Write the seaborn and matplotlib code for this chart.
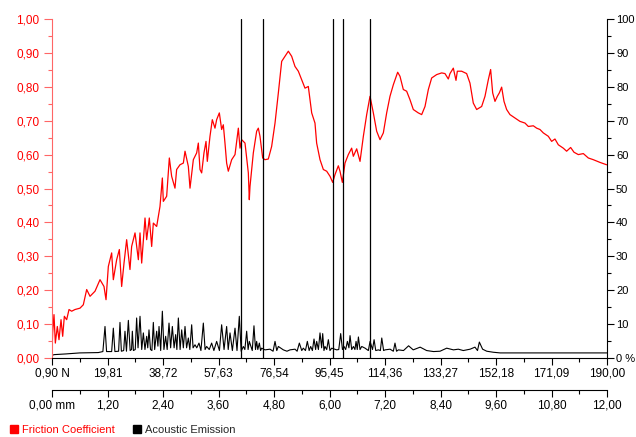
import matplotlib
matplotlib.use("Agg")
import matplotlib.pyplot as plt
from matplotlib.lines import Line2D
from matplotlib.ticker import MultipleLocator, FixedLocator
import seaborn as sns
import pandas as pd

# friction coefficient, x in mm of track
friction_mm = [0.000, 0.014, 0.043, 0.072, 0.115, 0.151, 0.195, 0.231, 0.267, 0.317, 0.368, 0.425,
               0.497, 0.605, 0.677, 0.750, 0.822, 0.930, 1.038, 1.124, 1.168, 1.218, 1.290, 1.326,
               1.398, 1.456, 1.506, 1.557, 1.614, 1.686, 1.722, 1.795, 1.867, 1.903, 1.939, 2.011,
               2.047, 2.104, 2.155, 2.191, 2.263, 2.335, 2.386, 2.407, 2.479, 2.537, 2.587, 2.659,
               2.695, 2.767, 2.840, 2.876, 2.948, 2.984, 3.056, 3.128, 3.164, 3.200, 3.236, 3.286,
               3.330, 3.358, 3.416, 3.466, 3.524, 3.560, 3.618, 3.668, 3.704, 3.740, 3.776, 3.812,
               3.885, 3.957, 4.029, 4.065, 4.101, 4.173, 4.245, 4.266, 4.281, 4.353, 4.425, 4.461,
               4.497, 4.555, 4.605, 4.677, 4.749, 4.822, 4.894, 4.966, 5.038, 5.110, 5.182, 5.254,
               5.326, 5.398, 5.470, 5.542, 5.615, 5.686, 5.722, 5.795, 5.867, 5.939, 6.011, 6.069,
               6.119, 6.191, 6.227, 6.278, 6.335, 6.407, 6.479, 6.515, 6.588, 6.660, 6.732, 6.804,
               6.876, 6.948, 7.020, 7.092, 7.164, 7.236, 7.308, 7.380, 7.474, 7.524, 7.596, 7.668,
               7.740, 7.812, 7.920, 7.993, 8.065, 8.137, 8.209, 8.317, 8.425, 8.497, 8.569, 8.605,
               8.677, 8.735, 8.764, 8.857, 8.965, 9.037, 9.109, 9.182, 9.290, 9.362, 9.434, 9.484,
               9.528, 9.578, 9.629, 9.672, 9.722, 9.773, 9.830, 9.902, 10.010, 10.118, 10.227,
               10.299, 10.407, 10.479, 10.551, 10.623, 10.731, 10.803, 10.875, 10.947, 11.055,
               11.127, 11.214, 11.286, 11.380, 11.488, 11.596, 11.704, 11.848, 11.992]
friction = [0.020, 0.074, 0.128, 0.044, 0.093, 0.054, 0.113, 0.064, 0.123, 0.113, 0.143, 0.138,
            0.143, 0.147, 0.157, 0.202, 0.182, 0.197, 0.231, 0.211, 0.172, 0.270, 0.310, 0.231,
            0.290, 0.320, 0.211, 0.280, 0.349, 0.261, 0.329, 0.369, 0.290, 0.369, 0.280, 0.413,
            0.349, 0.413, 0.329, 0.398, 0.388, 0.447, 0.531, 0.462, 0.477, 0.590, 0.536, 0.501,
            0.556, 0.570, 0.575, 0.610, 0.565, 0.501, 0.585, 0.605, 0.634, 0.556, 0.546, 0.605,
            0.639, 0.580, 0.654, 0.703, 0.678, 0.703, 0.723, 0.674, 0.688, 0.634, 0.575, 0.551,
            0.585, 0.600, 0.678, 0.619, 0.644, 0.634, 0.546, 0.467, 0.506, 0.605, 0.669, 0.678,
            0.654, 0.590, 0.585, 0.587, 0.624, 0.693, 0.782, 0.875, 0.890, 0.905, 0.890, 0.860,
            0.846, 0.821, 0.796, 0.801, 0.723, 0.693, 0.634, 0.585, 0.556, 0.551, 0.536, 0.518,
            0.541, 0.567, 0.551, 0.518, 0.575, 0.600, 0.619, 0.595, 0.617, 0.580, 0.654, 0.718,
            0.772, 0.723, 0.669, 0.644, 0.664, 0.723, 0.772, 0.806, 0.843, 0.831, 0.792, 0.787,
            0.762, 0.733, 0.723, 0.718, 0.742, 0.792, 0.826, 0.836, 0.841, 0.839, 0.823, 0.839,
            0.855, 0.819, 0.846, 0.846, 0.839, 0.811, 0.752, 0.733, 0.742, 0.772, 0.821, 0.851,
            0.782, 0.757, 0.772, 0.782, 0.799, 0.757, 0.733, 0.718, 0.708, 0.698, 0.693,
            0.683, 0.685, 0.678, 0.674, 0.664, 0.654, 0.639, 0.646, 0.629, 0.619,
            0.610, 0.621, 0.607, 0.600, 0.603, 0.590, 0.585, 0.577, 0.570]

# acoustic emission in %
ae_mm = [0.00, 0.05, 0.30, 0.60, 1.00, 1.10, 1.146, 1.18, 1.29, 1.326, 1.36, 1.44, 1.470, 1.50,
         1.55, 1.578, 1.61, 1.651, 1.69, 1.72, 1.737, 1.76, 1.80, 1.830, 1.86, 1.903, 1.94, 1.975,
         2.01, 2.047, 2.07, 2.097, 2.13, 2.16, 2.191, 2.22, 2.263, 2.29, 2.314, 2.35, 2.386, 2.42,
         2.457, 2.49, 2.530, 2.565, 2.602, 2.64, 2.674, 2.70, 2.732, 2.77, 2.804, 2.84, 2.876,
         2.91, 2.948, 2.98, 3.020, 3.05, 3.092, 3.13, 3.178, 3.22, 3.272, 3.31, 3.344, 3.40, 3.452,
         3.50, 3.560, 3.62, 3.668, 3.72, 3.776, 3.81, 3.849, 3.90, 3.957, 4.00, 4.050, 4.09, 4.137,
         4.17, 4.209, 4.24, 4.266, 4.33, 4.367, 4.40, 4.425, 4.45, 4.483, 4.51, 4.533, 4.605,
         4.713, 4.78, 4.822, 4.86, 4.894, 5.002, 5.08, 5.146, 5.254, 5.30, 5.348, 5.40, 5.434,
         5.48, 5.521, 5.56, 5.593, 5.63, 5.665, 5.70, 5.723, 5.76, 5.795, 5.83, 5.853, 5.88, 5.903,
         5.94, 5.975, 6.01, 6.048, 6.156, 6.20, 6.242, 6.28, 6.314, 6.35, 6.387, 6.42, 6.444,
         6.48, 6.517, 6.55, 6.574, 6.60, 6.625, 6.66, 6.697, 6.769, 6.84, 6.877, 6.93, 6.964,
         7.00, 7.058, 7.10, 7.13, 7.17, 7.20, 7.31, 7.38, 7.416, 7.45, 7.49, 7.60, 7.71, 7.81,
         7.96, 8.10, 8.25, 8.39, 8.534, 8.68, 8.785, 8.893, 9.04, 9.145, 9.20, 9.24, 9.31, 9.40,
         9.54, 9.69, 12.00]
ae_pct = [0.8, 1.0, 1.2, 1.5, 1.6, 1.9, 9.3, 1.9, 1.9, 8.8, 1.9, 2.0, 10.5, 2.0,
          2.2, 7.9, 2.0, 11.1, 2.2, 2.5, 7.9, 2.2, 2.5, 11.8, 3.0, 12.3, 2.5, 7.4,
          2.5, 6.4, 3.0, 8.3, 2.5, 2.2, 10.5, 2.5, 7.9, 3.5, 9.3, 2.2, 13.8, 2.5,
          6.4, 2.5, 10.3, 3.0, 9.3, 3.0, 6.9, 2.5, 11.8, 2.5, 8.3, 3.0, 9.3,
          3.0, 5.9, 2.5, 9.8, 3.0, 3.9, 3.0, 4.4, 2.2, 10.3, 2.5, 3.4, 2.5, 4.4,
          2.2, 4.9, 2.2, 9.8, 2.5, 9.3, 2.5, 7.4, 2.2, 8.8, 2.2, 12.3, 2.0, 3.4,
          2.5, 7.9, 2.5, 4.9, 2.2, 9.5, 2.5, 4.9, 2.5, 4.4, 2.2, 2.9, 2.4,
          2.6, 2.0, 4.9, 2.2, 3.4, 2.4, 2.0, 2.4, 2.6, 2.0, 4.4, 2.2, 2.9,
          2.2, 4.9, 2.2, 3.4, 2.2, 5.6, 2.5, 4.9, 2.5, 7.4, 3.0, 7.2, 2.2, 3.4,
          2.5, 5.4, 2.2, 2.9, 2.4, 2.5, 7.2, 2.5, 3.4, 2.5, 4.9, 3.0, 6.6,
          2.5, 3.4, 2.5, 4.9, 2.5, 6.2, 2.5, 3.4, 2.9, 2.2, 4.9, 2.5, 5.4,
          2.2, 2.4, 2.2, 5.9, 2.2, 2.4, 2.6, 2.0, 4.4, 2.0, 2.4, 2.2, 3.6, 2.4,
          3.2, 2.2, 1.9, 2.0, 2.9, 2.4, 2.6, 2.2, 2.6, 3.2, 2.2, 4.7, 2.6, 2.0,
          1.7, 1.5, 1.5]

# marker lines (mm)
markers_mm = [4.09, 4.56, 6.08, 6.29, 6.87]

# axis tick labels
tick_mm = [0.0, 1.2, 2.4, 3.6, 4.8, 6.0, 7.2, 8.4, 9.6, 10.8, 12.0]
load_labels = ["0,90 N", "19,81", "38,72", "57,63", "76,54", "95,45", "114,36",
               "133,27", "152,18", "171,09", "190,00"]
mm_labels = ["0,00 mm", "1,20", "2,40", "3,60", "4,80", "6,00", "7,20",
             "8,40", "9,60", "10,80", "12,00"]
left_ticks = [0.0, 0.1, 0.2, 0.3, 0.4, 0.5, 0.6, 0.7, 0.8, 0.9, 1.0]
left_labels = ["0,00", "0,10", "0,20", "0,30", "0,40", "0,50", "0,60", "0,70", "0,80", "0,90", "1,00"]
right_ticks = [0, 10, 20, 30, 40, 50, 60, 70, 80, 90, 100]
right_labels = ["0 %", "10", "20", "30", "40", "50", "60", "70", "80", "90", "100"]

sns.set_style("white")
plt.rcParams['font.family'] = ['Liberation Sans', 'DejaVu Sans']
plt.rcParams['font.size'] = 8.5

RED = "#ff0000"
fig = plt.figure(figsize=(6.36, 4.37), dpi=100)
ax = fig.add_axes([52/636, 1 - 358/437, 555/636, 339/437])
ax2 = ax.twinx()

fr = pd.DataFrame({"mm": friction_mm, "mu": friction})
ae = pd.DataFrame({"mm": ae_mm, "pct": ae_pct})
sns.lineplot(data=ae, x="mm", y="pct", ax=ax2, color="black", lw=0.8, estimator=None, sort=False)
sns.lineplot(data=fr, x="mm", y="mu", ax=ax, color=RED, lw=0.9, estimator=None, sort=False)
for m in markers_mm:
    ax.axvline(m, color="black", lw=0.9, zorder=5)

ax.set_xlim(0, 12)
ax.set_ylim(0, 1)
ax2.set_ylim(0, 100)
ax.set_xlabel("")
ax.set_ylabel("")
ax2.set_ylabel("")
ax.patch.set_visible(False)
ax.set_zorder(ax2.get_zorder() + 1)

for a in (ax, ax2):
    a.spines["top"].set_visible(False)
ax.spines["left"].set_color("#ff6666")
ax.spines["right"].set_visible(False)
ax2.spines["left"].set_visible(False)
ax2.spines["right"].set_color("black")
ax.spines["bottom"].set_color("black")
ax2.spines["bottom"].set_visible(False)

ax.yaxis.set_major_locator(FixedLocator(left_ticks))
ax.set_yticklabels(left_labels)
ax.yaxis.set_minor_locator(MultipleLocator(0.05))
ax.tick_params(axis="y", which="major", colors="#ff6666", labelcolor=RED, length=6, width=0.8, left=True, direction="out", pad=3)
ax.tick_params(axis="y", which="minor", colors="#ff6666", length=3, width=0.8, left=True, direction="out")

ax2.yaxis.set_major_locator(FixedLocator(right_ticks))
ax2.set_yticklabels(right_labels)
ax2.yaxis.set_minor_locator(MultipleLocator(5))
ax2.tick_params(axis="y", which="major", colors="black", length=5, width=0.8, right=True, direction="out", pad=1.5, labelsize=8)
ax2.tick_params(axis="y", which="minor", colors="black", length=3, width=0.8, right=True, direction="out")

ax.xaxis.set_major_locator(FixedLocator(tick_mm))
ax.set_xticklabels(load_labels)
ax.xaxis.set_minor_locator(MultipleLocator(0.6))
ax.tick_params(axis="x", which="major", length=5, width=0.8, bottom=True, direction="out", colors="black", pad=1.5)
ax.tick_params(axis="x", which="minor", length=3, width=0.8, bottom=True, direction="out", colors="black")

sec = ax.secondary_xaxis(-32/339)
sec.xaxis.set_major_locator(FixedLocator(tick_mm))
sec.set_xticklabels(mm_labels)
sec.xaxis.set_minor_locator(MultipleLocator(0.6))
sec.spines["bottom"].set_color("black")
sec.tick_params(axis="x", which="major", length=5, width=0.8, direction="out", colors="black", pad=1.5)
sec.tick_params(axis="x", which="minor", length=3, width=0.8, direction="out", colors="black")

handles = [Line2D([], [], marker="s", color="none", markerfacecolor=RED, markeredgecolor=RED, markersize=6),
           Line2D([], [], marker="s", color="none", markerfacecolor="black", markeredgecolor="black", markersize=6)]
leg = fig.legend(handles, ["Friction Coefficient", "Acoustic Emission"], loc="lower left",
                 bbox_to_anchor=(0.0, -0.018), ncol=2, frameon=False, handlelength=0.8,
                 handletextpad=0.3, columnspacing=1.6, fontsize=8)
leg.get_texts()[0].set_color(RED)

fig.savefig("out.png", dpi=100)
